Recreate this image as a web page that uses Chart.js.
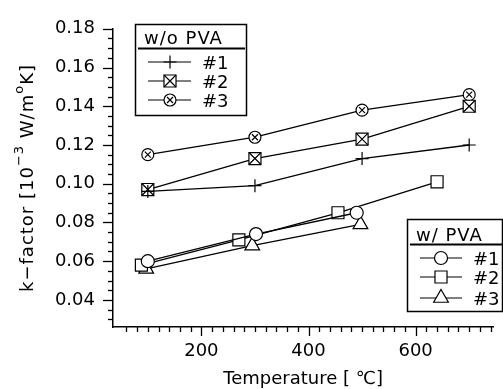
<!DOCTYPE html>
<html><head><meta charset="utf-8">
<script src="https://cdn.jsdelivr.net/npm/chart.js@4/dist/chart.umd.min.js"></script>
<style>html,body{margin:0;padding:0;background:#fff;}canvas{display:block}</style>
</head><body>
<canvas id="c" width="503" height="389"></canvas>
<script>
// ---- data ----
const woX = [100, 300, 500, 700];
const wo1 = [0.096, 0.099, 0.113, 0.120];
const wo2 = [0.097, 0.113, 0.123, 0.140];
const wo3 = [0.115, 0.124, 0.138, 0.146];
const w1X = [100, 302, 490];
const w1 = [0.060, 0.074, 0.085];
const w2X = [88, 270, 455, 640];
const w2 = [0.058, 0.071, 0.085, 0.101];
const w3X = [97, 295, 497];
const w3 = [0.056, 0.068, 0.079];
const seriesNames = ['#1', '#2', '#3'];
const legendTitles = ['w/o PVA', 'w/ PVA'];
const xTickValues = [200, 400, 600];
const yTickValues = [0.04, 0.06, 0.08, 0.10, 0.12, 0.14, 0.16, 0.18];
const xTitle = 'Temperature [ \u2103]';

const FONT = '"DejaVu Sans", "Noto Sans", sans-serif';

// marker kinds -> Chart.js point style + radius
const STYLE = {
  plus: { ps: 'cross', r: 6.5 },
  boxx: { ps: 'rect', r: 8.5 },
  circx: { ps: 'circle', r: 6 },
  circle: { ps: 'circle', r: 6.5 },
  square: { ps: 'rect', r: 8.5 },
  triangle: { ps: 'triangle', r: 8.5 }
};

function drawX(ctx, x, y, d) {
  ctx.beginPath();
  ctx.moveTo(x - d, y - d); ctx.lineTo(x + d, y + d);
  ctx.moveTo(x + d, y - d); ctx.lineTo(x - d, y + d);
  ctx.stroke();
}

function drawSym(ctx, kind, x, y) {
  const st = STYLE[kind];
  ctx.save();
  ctx.strokeStyle = '#000';
  ctx.fillStyle = '#fff';
  ctx.lineWidth = 1.2;
  Chart.helpers.drawPoint(ctx, { pointStyle: st.ps, radius: st.r, rotation: 0, borderWidth: 1.2 }, x, y);
  if (kind === 'boxx') drawX(ctx, x, y, st.r * Math.SQRT1_2);
  if (kind === 'circx') drawX(ctx, x, y, 3);
  ctx.restore();
}

const woKinds = ['plus', 'boxx', 'circx'];
const wKinds = ['circle', 'square', 'triangle'];

function ds(xs, ys, kind) {
  const st = STYLE[kind];
  return {
    data: xs.map((x, i) => ({ x: x, y: ys[i] })),
    kind: kind,
    showLine: true,
    borderColor: '#000',
    borderWidth: 1.3,
    pointStyle: st.ps,
    pointRadius: st.r,
    pointHoverRadius: st.r,
    pointBorderWidth: 1.2,
    pointBorderColor: '#000',
    pointBackgroundColor: '#fff',
    backgroundColor: '#fff'
  };
}

const datasets = [
  ds(woX, wo1, 'plus'),
  ds(woX, wo2, 'boxx'),
  ds(woX, wo3, 'circx'),
  ds(w1X, w1, 'circle'),
  ds(w2X, w2, 'square'),
  ds(w3X, w3, 'triangle')
];

function drawLegend(ctx, box, title, kinds) {
  ctx.save();
  ctx.strokeStyle = '#000';
  ctx.lineWidth = 1.5;
  ctx.strokeRect(box.x, box.y, box.w, box.h);
  ctx.fillStyle = '#000';
  ctx.font = '18px ' + FONT;
  ctx.textBaseline = 'alphabetic';
  ctx.letterSpacing = '1px';
  ctx.fillText(title, box.tx, box.ty);
  ctx.letterSpacing = '0px';
  ctx.lineWidth = 2;
  ctx.beginPath();
  ctx.moveTo(box.ux0, box.uy); ctx.lineTo(box.ux1, box.uy); ctx.stroke();
  kinds.forEach((k, i) => {
    const y = box.ey[i];
    ctx.lineWidth = 1.2;
    ctx.beginPath();
    ctx.moveTo(box.lx0, y); ctx.lineTo(box.lx1, y); ctx.stroke();
    drawSym(ctx, k, box.mx, y);
    ctx.fillStyle = '#000';
    ctx.fillText(seriesNames[i], box.nx, y + 6.5);
  });
  ctx.restore();
}

const decor = {
  id: 'decor',
  afterDatasetsDraw(chart) {
    const ctx = chart.ctx;
    ctx.save();
    ctx.strokeStyle = '#000';
    ctx.lineWidth = 1.2;
    chart.data.datasets.forEach((d, di) => {
      if (d.kind !== 'boxx' && d.kind !== 'circx') return;
      const meta = chart.getDatasetMeta(di);
      meta.data.forEach(pt => {
        drawX(ctx, pt.x, pt.y, d.kind === 'boxx' ? STYLE.boxx.r * Math.SQRT1_2 : 3);
      });
    });
    ctx.restore();
  },
  afterDraw(chart) {
    const ctx = chart.ctx, xs = chart.scales.x, ys = chart.scales.y;
    const bottom = ys.bottom, left = xs.left;
    ctx.save();
    ctx.strokeStyle = '#000';
    ctx.lineWidth = 1.3;
    for (let i = 3; i <= 37; i++) {
      const v = i * 20;
      if (v < xs.min || v > xs.max) continue;
      const px = Math.round(xs.getPixelForValue(v)) + 0.5;
      const len = (v % 200 === 0) ? 9 : 5;
      ctx.beginPath(); ctx.moveTo(px, bottom); ctx.lineTo(px, bottom + len); ctx.stroke();
    }
    for (let i = 6; i <= 36; i++) {
      const v = i * 0.005;
      const py = Math.round(ys.getPixelForValue(v)) + 0.5;
      const len = (i % 4 === 0) ? 10 : 5;
      ctx.beginPath(); ctx.moveTo(left, py); ctx.lineTo(left - len, py); ctx.stroke();
    }
    // x title
    ctx.fillStyle = '#000';
    ctx.font = '18px ' + FONT;
    ctx.textAlign = 'center';
    ctx.textBaseline = 'alphabetic';
    ctx.fillText(xTitle, (xs.left + xs.right) / 2, 384);
    // y title with superscripts
    const segs = [
      { t: 'k\u2212factor [10', s: false },
      { t: '\u22123', s: true },
      { t: ' W/m', s: false },
      { t: 'o', s: true },
      { t: 'K]', s: false }
    ];
    ctx.letterSpacing = '1px';
    let total = 0;
    segs.forEach(sg => { ctx.font = (sg.s ? '13px ' : '18px ') + FONT; sg.w = ctx.measureText(sg.t).width; total += sg.w; });
    ctx.translate(33, 178);
    ctx.rotate(-Math.PI / 2);
    ctx.textAlign = 'left';
    let cx = -total / 2;
    segs.forEach(sg => {
      ctx.font = (sg.s ? '13px ' : '18px ') + FONT;
      ctx.fillText(sg.t, cx, sg.s ? -10 : 0);
      cx += sg.w;
    });
    ctx.restore();

    drawLegend(ctx, { x: 135.5, y: 24.5, w: 111, h: 91, tx: 144, ty: 44, ux0: 138, ux1: 245, uy: 48.5,
      ey: [62, 81, 100], lx0: 148, lx1: 191, mx: 170, nx: 202 }, legendTitles[0], woKinds);
    drawLegend(ctx, { x: 407.5, y: 219.5, w: 95, h: 92, tx: 416, ty: 241, ux0: 410, ux1: 502, uy: 244.5,
      ey: [258, 277, 298], lx0: 420, lx1: 462, mx: 441, nx: 473 }, legendTitles[1], wKinds);
  }
};

new Chart(document.getElementById('c').getContext('2d'), {
  type: 'scatter',
  data: { datasets: datasets },
  options: {
    responsive: false,
    animation: false,
    devicePixelRatio: 1,
    layout: { padding: { top: 17, right: 5, left: 0, bottom: 0 } },
    plugins: { legend: { display: false }, tooltip: { enabled: false } },
    scales: {
      x: {
        type: 'linear', min: 35, max: 745,
        afterFit(s) { s.height = 62; },
        afterBuildTicks(s) { s.ticks = xTickValues.map(v => ({ value: v })); },
        grid: { display: false, drawTicks: false },
        border: { display: true, color: '#000', width: 1.5 },
        ticks: { color: '#000', font: { family: FONT, size: 18 }, padding: 14, maxRotation: 0, autoSkip: false }
      },
      y: {
        type: 'linear', min: 0.026, max: 0.18,
        afterFit(s) { s.width = 113; },
        afterBuildTicks(s) { s.ticks = yTickValues.map(v => ({ value: v })); },
        grid: { display: false, drawTicks: false },
        border: { display: true, color: '#000', width: 1.5 },
        ticks: { color: '#000', font: { family: FONT, size: 18 }, padding: 18, autoSkip: false,
          callback: v => Number(v).toFixed(2) }
      }
    }
  },
  plugins: [decor]
});
</script>
</body></html>
